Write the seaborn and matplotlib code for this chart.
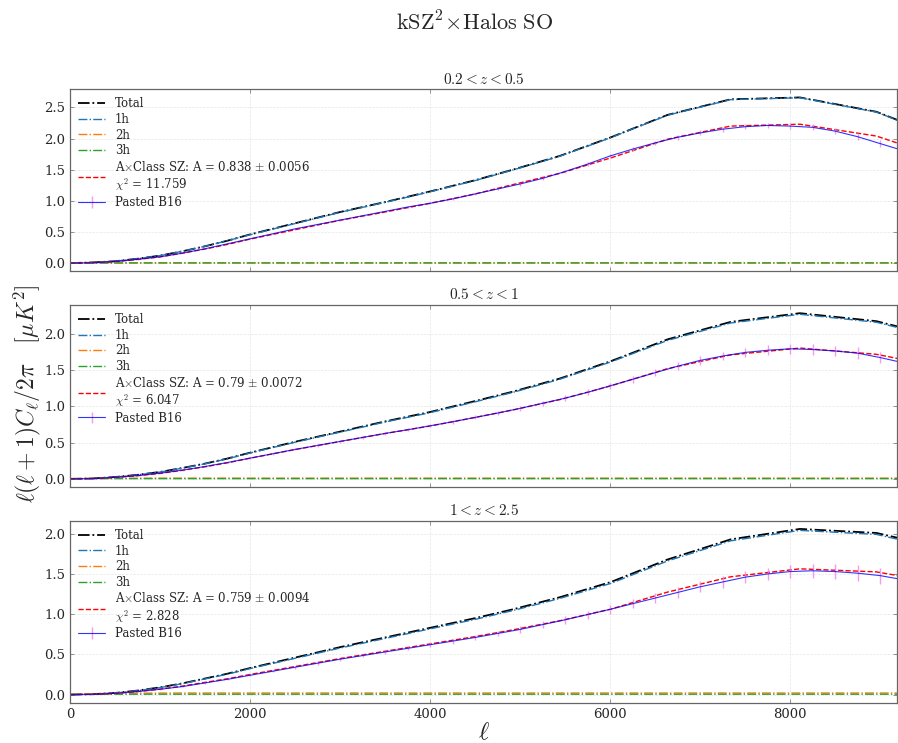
import matplotlib
matplotlib.use("Agg")
import matplotlib.pyplot as plt
import seaborn as sns

# theory grid (multipoles of the halo-model curves)
ell = [0, 250, 500, 750, 1000, 1250, 1500, 1750, 2000, 2500, 3000, 3500, 4000,
       4500, 4920, 5440, 6010, 6640, 7340, 8110, 8960, 9900]
# B16 template grid
ell_b16 = [0, 250, 500, 750, 1000, 1250, 1500, 1750, 2000, 2250, 2500, 2750, 3000,
           3250, 3500, 3750, 4000, 4250, 4500, 4750, 5000, 5250, 5500, 5750, 6000,
           6250, 6500, 6750, 7000, 7250, 7500, 7750, 8000, 8250, 8500, 8750, 9000, 9250]

z_bins = [r"$0.2 < z < 0.5$", r"$0.5 < z < 1$", r"$1 < z < 2.5$"]
amp_labels = ["A = 0.838 $\\pm$ 0.0056", "A = 0.79 $\\pm$ 0.0072", "A = 0.759 $\\pm$ 0.0094"]
chi2_labels = ["11.759", "6.047", "2.828"]

total = [
    [0, 0.01, 0.03, 0.07, 0.12, 0.19, 0.27, 0.36, 0.46, 0.64, 0.82, 0.98, 1.15,
     1.33, 1.50, 1.72, 2.02, 2.38, 2.63, 2.66, 2.43, 1.90],
    [0, 0.005, 0.025, 0.055, 0.095, 0.15, 0.21, 0.28, 0.36, 0.51, 0.65, 0.79, 0.92,
     1.07, 1.20, 1.38, 1.62, 1.92, 2.16, 2.28, 2.17, 1.88],
    [0, 0.005, 0.02, 0.05, 0.09, 0.14, 0.20, 0.26, 0.33, 0.46, 0.59, 0.71, 0.83,
     0.95, 1.06, 1.21, 1.40, 1.68, 1.93, 2.06, 2.01, 1.77],
]
one_h = [
    [0, 0.01, 0.03, 0.07, 0.12, 0.19, 0.27, 0.36, 0.455, 0.635, 0.815, 0.975, 1.145,
     1.325, 1.495, 1.715, 2.015, 2.375, 2.625, 2.655, 2.425, 1.895],
    [0, 0.005, 0.024, 0.054, 0.093, 0.147, 0.207, 0.276, 0.355, 0.504, 0.643, 0.782, 0.911,
     1.06, 1.19, 1.37, 1.61, 1.905, 2.145, 2.265, 2.155, 1.865],
    [0, 0.005, 0.019, 0.048, 0.087, 0.136, 0.195, 0.254, 0.323, 0.451, 0.579, 0.698, 0.817,
     0.935, 1.045, 1.195, 1.383, 1.662, 1.912, 2.042, 1.992, 1.752],
]
two_h = [
    [0, 0.003, 0.004, 0.005, 0.005, 0.005, 0.005, 0.005, 0.005, 0.005, 0.005, 0.005, 0.005,
     0.005, 0.005, 0.005, 0.005, 0.005, 0.005, 0.005, 0.005, 0.005],
    [0, 0.006, 0.008, 0.009, 0.01, 0.01, 0.01, 0.01, 0.01, 0.01, 0.01, 0.01, 0.01,
     0.01, 0.01, 0.01, 0.01, 0.01, 0.01, 0.01, 0.01, 0.01],
    [0, 0.012, 0.016, 0.018, 0.019, 0.02, 0.02, 0.02, 0.02, 0.02, 0.02, 0.02, 0.02,
     0.02, 0.02, 0.02, 0.02, 0.02, 0.02, 0.02, 0.02, 0.02],
]
three_h = [
    [0, 0.001, 0.002, 0.002, 0.002, 0.002, 0.002, 0.002, 0.002, 0.002, 0.002, 0.002, 0.002,
     0.002, 0.002, 0.002, 0.002, 0.002, 0.002, 0.002, 0.002, 0.002],
    [0, 0.002, 0.003, 0.003, 0.003, 0.003, 0.003, 0.003, 0.003, 0.003, 0.003, 0.003, 0.003,
     0.003, 0.003, 0.003, 0.003, 0.003, 0.003, 0.003, 0.003, 0.003],
    [0, 0.003, 0.004, 0.005, 0.005, 0.005, 0.005, 0.005, 0.005, 0.005, 0.005, 0.005, 0.005,
     0.005, 0.005, 0.005, 0.005, 0.005, 0.005, 0.005, 0.005, 0.005],
]
fit = [
    [0, 0.008, 0.025, 0.059, 0.10, 0.16, 0.226, 0.30, 0.385, 0.536, 0.687, 0.82, 0.96,
     1.11, 1.26, 1.44, 1.69, 1.99, 2.20, 2.23, 2.04, 1.59],
    [0, 0.004, 0.02, 0.043, 0.075, 0.118, 0.166, 0.221, 0.284, 0.403, 0.514, 0.624, 0.727,
     0.845, 0.948, 1.09, 1.28, 1.517, 1.706, 1.80, 1.714, 1.485],
    [0, 0.004, 0.015, 0.038, 0.068, 0.106, 0.152, 0.197, 0.25, 0.349, 0.448, 0.539, 0.63,
     0.721, 0.805, 0.918, 1.063, 1.275, 1.465, 1.564, 1.526, 1.343],
]
b16 = [
    [0, 0.005, 0.025, 0.06, 0.10, 0.16, 0.23, 0.31, 0.39, 0.47, 0.55, 0.62, 0.69,
     0.76, 0.83, 0.90, 0.96, 1.03, 1.11, 1.19, 1.27, 1.36, 1.47, 1.59, 1.72,
     1.83, 1.93, 2.02, 2.09, 2.15, 2.19, 2.21, 2.20, 2.18, 2.12, 2.03, 1.92, 1.81],
    [0, 0.004, 0.02, 0.045, 0.078, 0.12, 0.17, 0.225, 0.285, 0.345, 0.405, 0.46, 0.515,
     0.57, 0.625, 0.675, 0.73, 0.785, 0.845, 0.905, 0.97, 1.04, 1.11, 1.19, 1.28,
     1.37, 1.46, 1.55, 1.63, 1.69, 1.74, 1.77, 1.79, 1.78, 1.76, 1.73, 1.67, 1.60],
    [0, 0.004, 0.015, 0.038, 0.066, 0.10, 0.145, 0.19, 0.24, 0.29, 0.34, 0.39, 0.44,
     0.485, 0.53, 0.575, 0.62, 0.665, 0.71, 0.76, 0.81, 0.87, 0.93, 0.995, 1.06,
     1.13, 1.20, 1.27, 1.34, 1.40, 1.46, 1.50, 1.53, 1.54, 1.53, 1.51, 1.48, 1.43],
]
b16_err = [
    [0, 0.001, 0.002, 0.003, 0.004, 0.005, 0.006, 0.007, 0.008, 0.009, 0.01, 0.011, 0.012,
     0.013, 0.014, 0.015, 0.016, 0.018, 0.02, 0.022, 0.024, 0.026, 0.028, 0.03, 0.032,
     0.034, 0.036, 0.038, 0.04, 0.042, 0.044, 0.046, 0.048, 0.05, 0.052, 0.054, 0.056, 0.058],
    [0, 0.001, 0.003, 0.004, 0.005, 0.007, 0.008, 0.009, 0.011, 0.012, 0.013, 0.015, 0.016,
     0.017, 0.019, 0.02, 0.022, 0.024, 0.027, 0.03, 0.033, 0.036, 0.039, 0.042, 0.045,
     0.048, 0.051, 0.054, 0.057, 0.06, 0.063, 0.066, 0.069, 0.072, 0.075, 0.078, 0.081, 0.084],
    [0, 0.002, 0.003, 0.005, 0.007, 0.008, 0.01, 0.012, 0.013, 0.015, 0.017, 0.018, 0.02,
     0.022, 0.024, 0.026, 0.028, 0.031, 0.034, 0.037, 0.04, 0.043, 0.046, 0.049, 0.052,
     0.056, 0.06, 0.064, 0.068, 0.072, 0.076, 0.08, 0.084, 0.088, 0.092, 0.096, 0.1, 0.104],
]

sns.set_theme(style="ticks")
plt.rcParams["font.family"] = ["DejaVu Serif"]
plt.rcParams["mathtext.fontset"] = "cm"

fig, axes = plt.subplots(3, 1, figsize=(8.98, 7.43), dpi=100, sharex=True)
fig.subplots_adjust(left=0.078, right=0.999, top=0.88, bottom=0.054, hspace=0.184)

for i, ax in enumerate(axes):
    sns.lineplot(x=ell, y=total[i], ax=ax, color="black", linestyle="-.", lw=1.3, label="Total")
    sns.lineplot(x=ell, y=one_h[i], ax=ax, color="tab:blue", linestyle="-.", lw=1.0, label="1h")
    sns.lineplot(x=ell, y=two_h[i], ax=ax, color="tab:orange", linestyle="-.", lw=1.0, label="2h")
    sns.lineplot(x=ell, y=three_h[i], ax=ax, color="tab:green", linestyle="-.", lw=1.0, label="3h")
    sns.lineplot(x=ell, y=fit[i], ax=ax, color="red", linestyle="--", lw=1.0,
                 label="A$\\times$Class SZ: " + amp_labels[i] + "\n$\\chi^2$ = " + chi2_labels[i])
    ax.errorbar(ell_b16, b16[i], yerr=b16_err[i], color="blue", ecolor="violet",
                lw=0.8, elinewidth=1.0, alpha=0.8, label="Pasted B16")

    ax.set_title(z_bins[i], fontsize=11, pad=4)
    ax.set_xlim(0, 9190)
    ax.grid(True, ls="--", lw=0.5, color="0.9")
    ax.tick_params(direction="in", top=True, right=True, labelsize=9.5,
                   length=3, width=0.6, color="0.5")
    for s in ax.spines.values():
        s.set_color("0.4")
        s.set_linewidth(0.9)
    ax.legend(loc="upper left", frameon=False, fontsize=8.5, handlelength=2.3,
              labelspacing=0.22, borderaxespad=0.3)
    ax.set_ylabel("")
    ax.set_xlabel("")

axes[2].set_xlabel(r"$\ell$", fontsize=18, labelpad=0)
axes[2].set_xticks([0, 2000, 4000, 6000, 8000])
fig.text(0.031, 0.47, r"$\ell(\ell+1)C_\ell/2\pi\quad[\mu K^2]$", rotation=90,
         fontsize=17, ha="center", va="center")
fig.suptitle(r"$\mathrm{kSZ}^2\!\times\!\mathrm{Halos\ SO}$", fontsize=16, x=0.528, y=0.985)

fig.savefig("out.png", dpi=100)
